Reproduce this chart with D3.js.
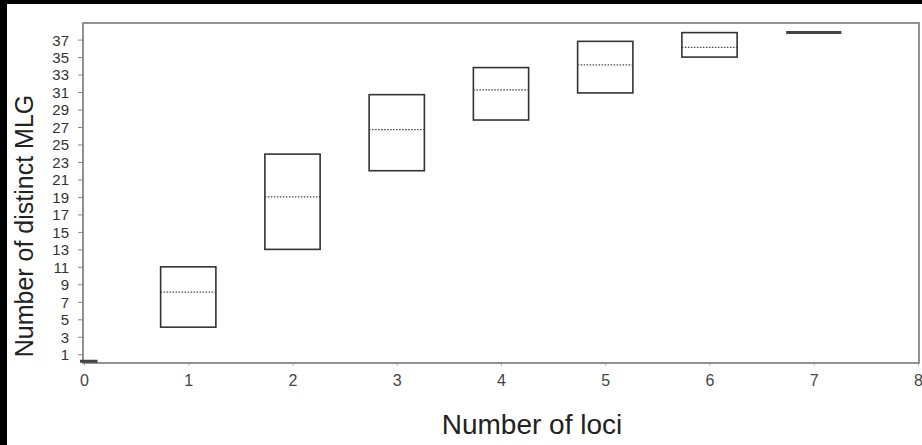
<!DOCTYPE html>
<html>
<head>
<meta charset="utf-8">
<script src="https://cdn.jsdelivr.net/npm/d3@7"></script>
<style>
  html, body { margin: 0; padding: 0; background: #000; }
  #vis { width: 922px; height: 445px; }
</style>
</head>
<body>
<div id="vis"></div>
<script>
// data
const loci = [0, 1, 2, 3, 4, 5, 6, 7];
const q1 = [0.2, 4.1, 13, 22, 27.8, 30.9, 35, 37.8];
const medians = [0.2, 8.1, 19, 26.7, 31.25, 34.1, 36.1, 37.8];
const q3 = [0.2, 11, 23.9, 30.7, 33.8, 36.8, 37.8, 37.8];
const xTicks = [0, 1, 2, 3, 4, 5, 6, 7, 8];
const yTicks = d3.range(1, 38, 2);

const W = 922, H = 445;
const plot = { left: 83, right: 918, top: 23, bottom: 363 };
const font = "Liberation Sans, Arial, sans-serif";

const svg = d3.select("#vis")
  .append("svg")
  .attr("width", W)
  .attr("height", H);

// white sheet (black strips left and top)
svg.append("rect")
  .attr("x", 7).attr("y", 4)
  .attr("width", W - 7).attr("height", H - 4)
  .attr("fill", "#fff");

const x = d3.scaleLinear().domain([0, 8]).range([plot.left + 1, plot.right]);
const y = d3.scaleLinear().domain([0, 38.9]).range([plot.bottom, plot.top]);

const data = loci.map((l, i) => ({ loci: l, q1: q1[i], med: medians[i], q3: q3[i] }));

svg.append("clipPath").attr("id", "clip")
  .append("rect")
  .attr("x", plot.left - 3).attr("y", plot.top)
  .attr("width", plot.right + 4 - plot.left).attr("height", plot.bottom - plot.top + 2);

// AXES
const yAxis = svg.append("g")
  .attr("transform", `translate(${plot.left},0)`)
  .call(d3.axisLeft(y).tickValues(yTicks).tickSize(5).tickPadding(9));
yAxis.select(".domain").remove();
yAxis.selectAll("line").attr("stroke", "#888");
yAxis.selectAll("text")
  .attr("dy", "0.36em")
  .attr("font-family", font)
  .attr("font-size", "15px")
  .attr("fill", "#333");

const xAxis = svg.append("g")
  .attr("transform", `translate(0,${plot.bottom})`)
  .call(d3.axisBottom(x).tickValues(xTicks).tickSize(3).tickPadding(9));
xAxis.select(".domain").remove();
xAxis.selectAll("line").attr("stroke", "#bbb");
xAxis.selectAll("text")
  .attr("font-family", font)
  .attr("font-size", "16px")
  .attr("fill", "#444");

// frame
svg.append("rect")
  .attr("x", plot.left).attr("y", plot.top)
  .attr("width", plot.right + 1 - plot.left).attr("height", plot.bottom - plot.top)
  .attr("fill", "none")
  .attr("stroke", "#777")
  .attr("stroke-width", 1.6);

// BOXES
const half = 0.265;
const boxes = svg.append("g").attr("clip-path", "url(#clip)");

boxes.selectAll(".box")
  .data(data.filter(d => d.q3 > d.q1))
  .enter()
  .append("rect")
  .attr("class", "box")
  .attr("x", d => x(d.loci - half))
  .attr("y", d => y(d.q3))
  .attr("width", d => x(d.loci + half) - x(d.loci - half))
  .attr("height", d => y(d.q1) - y(d.q3))
  .attr("fill", "none")
  .attr("stroke", "#333")
  .attr("stroke-width", 1.6);

boxes.selectAll(".med")
  .data(data.filter(d => d.q3 > d.q1))
  .enter()
  .append("line")
  .attr("class", "med")
  .attr("x1", d => x(d.loci - half))
  .attr("x2", d => x(d.loci + half))
  .attr("y1", d => y(d.med))
  .attr("y2", d => y(d.med))
  .attr("stroke", "#444")
  .attr("stroke-width", 1.2)
  .attr("stroke-dasharray", "1.5,1.5");

// collapsed boxes (all values equal); the one at 0 sits on the axis
boxes.selectAll(".flat")
  .data(data.filter(d => d.q3 === d.q1))
  .enter()
  .append("line")
  .attr("class", "flat")
  .attr("x1", d => d.loci === 0 ? x(-0.04) : x(d.loci - half))
  .attr("x2", d => d.loci === 0 ? x(0.13) : x(d.loci + half))
  .attr("y1", d => y(d.med))
  .attr("y2", d => y(d.med))
  .attr("stroke", "#444")
  .attr("stroke-width", 3);

// TITLES
svg.append("text")
  .attr("x", 532)
  .attr("y", 434)
  .attr("text-anchor", "middle")
  .attr("font-family", font)
  .attr("font-size", "28px")
  .attr("fill", "#222")
  .text("Number of loci");

svg.append("text")
  .attr("transform", "translate(33,226) rotate(-90)")
  .attr("text-anchor", "middle")
  .attr("font-family", font)
  .attr("font-size", "25px")
  .attr("fill", "#222")
  .text("Number of distinct MLG");
</script>
</body>
</html>
